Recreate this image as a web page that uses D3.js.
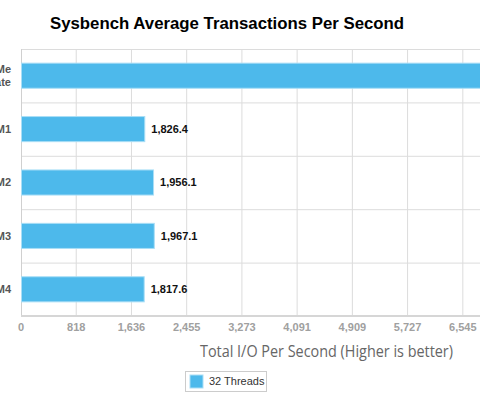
<!DOCTYPE html>
<html>
<head>
<meta charset="utf-8">
<script src="https://cdn.jsdelivr.net/npm/d3@7"></script>
<style>
  body { margin: 0; overflow: hidden; background: #fff; }
  svg { display: block; font-family: "Liberation Sans", Arial, sans-serif; }
</style>
</head>
<body>
<div id="chart"></div>
<script>
// Sysbench bar chart - 32 threads

const categories = [["NVMe", "Private"], ["VM1"], ["VM2"], ["VM3"], ["VM4"]];
const values = [8402.3, 1826.4, 1956.1, 1967.1, 1817.6];
const seriesName = "32 Threads";
const axisMax = 9000;
const tickCount = 11;

const width = 480;
const height = 397;
const plot = { left: 21, right: 628.5, top: 49, bottom: 316 };

const svg = d3.select("#chart")
    .append("svg")
    .attr("width", width)
    .attr("height", height);

const data = categories.map((c, i) => ({ key: c.join(" "), lines: c, value: values[i] }));

const x = d3.scaleLinear()
    .domain([0, axisMax])
    .range([plot.left, plot.right]);

const y = d3.scaleBand()
    .domain(data.map(d => d.key))
    .range([plot.top, plot.bottom])
    .paddingInner(0.53)
    .paddingOuter(0.265);

const ticks = d3.range(tickCount + 1).map(i => axisMax / tickCount * i);
const step = y.step();

// grid
svg.append("g")
    .selectAll("line")
    .data(ticks.slice(1))
    .join("line")
    .attr("x1", d => x(d)).attr("x2", d => x(d))
    .attr("y1", plot.top).attr("y2", plot.bottom)
    .attr("stroke", "#dcdcdc");

svg.append("g")
    .selectAll("line")
    .data(d3.range(data.length))
    .join("line")
    .attr("x1", plot.left).attr("x2", plot.right)
    .attr("y1", i => plot.top + i * step + 0.5).attr("y2", i => plot.top + i * step + 0.5)
    .attr("stroke", "#dcdcdc");

svg.append("line")
    .attr("x1", plot.left + 0.5).attr("x2", plot.left + 0.5)
    .attr("y1", plot.top).attr("y2", plot.bottom)
    .attr("stroke", "#d0d0d0");

svg.append("line")
    .attr("x1", plot.left).attr("x2", plot.right)
    .attr("y1", plot.bottom).attr("y2", plot.bottom)
    .attr("stroke", "#d6d6d6")
    .attr("stroke-width", 2);

// bars
svg.append("g")
    .selectAll("rect")
    .data(data)
    .join("rect")
    .attr("x", x(0) + 0.5)
    .attr("y", d => y(d.key))
    .attr("width", d => x(d.value) - x(0))
    .attr("height", y.bandwidth())
    .attr("fill", "#4db9eb")
    .attr("stroke", "#a9def6")
    .attr("stroke-width", 1);

// value labels
svg.append("g")
    .selectAll("text")
    .data(data)
    .join("text")
    .attr("x", d => x(d.value) + 7)
    .attr("y", d => y(d.key) + y.bandwidth() / 2)
    .attr("dy", "0.35em")
    .style("font-size", "11px")
    .style("font-weight", "bold")
    .attr("fill", "#111")
    .text(d => d3.format(",.1f")(d.value));

// category labels
const catText = svg.append("g")
    .selectAll("text")
    .data(data)
    .join("text")
    .attr("text-anchor", "end")
    .attr("x", 11)
    .attr("y", d => y(d.key) + y.bandwidth() / 2 - (d.lines.length - 1) * 6.5)
    .style("font-size", "11px")
    .style("font-weight", "bold")
    .attr("fill", "#555");

catText.selectAll("tspan")
    .data(d => d.lines)
    .join("tspan")
    .attr("x", 11)
    .attr("dy", (d, i) => i === 0 ? "0.35em" : "13")
    .text(d => d);

// x tick labels
svg.append("g")
    .selectAll("text")
    .data(ticks)
    .join("text")
    .attr("x", d => x(d))
    .attr("y", 327)
    .attr("dy", "0.35em")
    .attr("text-anchor", "middle")
    .style("font-size", "11px")
    .style("font-weight", "bold")
    .attr("fill", "#a0a0a0")
    .text(d => d3.format(",.0f")(d));

// axis title
svg.append("text")
    .attr("x", 200)
    .attr("y", 351)
    .attr("dy", "0.35em")
    .attr("textLength", 253)
    .attr("lengthAdjust", "spacingAndGlyphs")
    .style("font-family", "'Open Sans', sans-serif")
    .style("font-size", "16px")
    .attr("fill", "#666")
    .text("Total I/O Per Second (Higher is better)");

// title
svg.append("text")
    .attr("x", 50)
    .attr("y", 23)
    .attr("dy", "0.35em")
    .style("font-size", "16.8px")
    .style("font-weight", "bold")
    .attr("fill", "#000")
    .text("Sysbench Average Transactions Per Second");

// legend
const legend = svg.append("g").attr("transform", "translate(185.5,371.5)");
legend.append("rect")
    .attr("width", 81).attr("height", 20)
    .attr("fill", "#fff").attr("stroke", "#ccc");
legend.append("rect")
    .attr("x", 4.5).attr("y", 3.5)
    .attr("width", 13).attr("height", 13)
    .attr("fill", "#4db9eb").attr("stroke", "#a9def6");
legend.append("text")
    .attr("x", 23.5).attr("y", 10)
    .attr("dy", "0.35em")
    .style("font-size", "11px")
    .attr("fill", "#333")
    .text(seriesName);
</script>
</body>
</html>
